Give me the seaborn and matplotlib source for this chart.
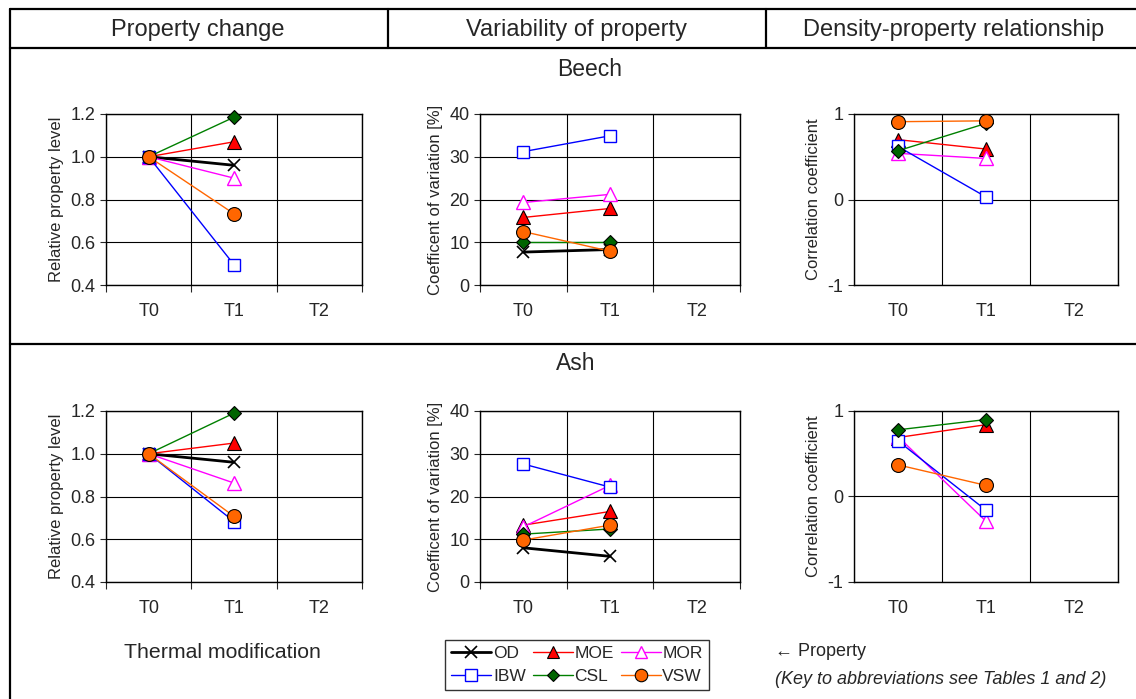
import matplotlib
matplotlib.use("Agg")
import matplotlib.pyplot as plt
import seaborn as sns
import pandas as pd
from matplotlib.lines import Line2D
from matplotlib.ticker import FormatStrFormatter

treatments = ["T0", "T1", "T2"]
measured = ["T0", "T1"]
properties = ["OD", "MOE", "MOR", "IBW", "CSL", "VSW"]

# Beech
beech_rel = {"OD": [1.0, 0.96], "MOE": [1.0, 1.07], "MOR": [1.0, 0.90],
             "IBW": [1.0, 0.495], "CSL": [1.0, 1.185], "VSW": [1.0, 0.733]}
beech_cov = {"OD": [7.7, 8.3], "MOE": [15.8, 17.9], "MOR": [19.3, 21.2],
             "IBW": [31.2, 34.9], "CSL": [10.1, 10.1], "VSW": [12.5, 7.9]}
beech_corr = {"MOE": [0.70, 0.59], "MOR": [0.54, 0.48], "IBW": [0.62, 0.03],
              "CSL": [0.57, 0.89], "VSW": [0.91, 0.92]}

# Ash
ash_rel = {"OD": [1.0, 0.96], "MOE": [1.0, 1.05], "MOR": [1.0, 0.863],
           "IBW": [1.0, 0.683], "CSL": [1.0, 1.19], "VSW": [1.0, 0.707]}
ash_cov = {"OD": [8.0, 6.0], "MOE": [13.3, 16.5], "MOR": [12.9, 22.6],
           "IBW": [27.6, 22.2], "CSL": [11.2, 12.4], "VSW": [9.8, 13.3]}
ash_corr = {"MOE": [0.69, 0.84], "MOR": [0.70, -0.29], "IBW": [0.65, -0.16],
            "CSL": [0.78, 0.90], "VSW": [0.37, 0.13]}

styles = {
    "OD": dict(color="black", lw=2.0, marker="x", ms=9, mfc="black", mec="black", mew=1.2),
    "MOE": dict(color="red", lw=1.0, marker="^", ms=10, mfc="red", mec="black", mew=0.8),
    "MOR": dict(color="magenta", lw=1.0, marker="^", ms=10, mfc="white", mec="magenta", mew=1.0),
    "IBW": dict(color="blue", lw=1.0, marker="s", ms=9, mfc="white", mec="blue", mew=1.0),
    "CSL": dict(color="#008000", lw=1.0, marker="D", ms=7, mfc="#006400", mec="black", mew=0.8),
    "VSW": dict(color="#FF6600", lw=1.0, marker="o", ms=10, mfc="#FF6600", mec="black", mew=0.8),
}

sns.set_style("white")
plt.rcParams["font.family"] = ["Liberation Sans", "DejaVu Sans"]
plt.rcParams["axes.unicode_minus"] = False

W, H = 1136, 699
fig = plt.figure(figsize=(W / 100, H / 100), dpi=100)


def px_axes(x0, y0, x1, y1):
    return fig.add_axes([x0 / W, 1 - y1 / H, (x1 - x0) / W, (y1 - y0) / H])


def draw_panel(ax, values, ylim, yticks, fmt, ylabel, corr=False):
    for p in properties:
        if p not in values:
            continue
        df = pd.DataFrame({"x": [treatments.index(t) for t in measured], "y": values[p]})
        st = styles[p]
        sns.lineplot(data=df, x="x", y="y", ax=ax, legend=False, color=st["color"],
                     linewidth=st["lw"], marker=st["marker"], markersize=st["ms"],
                     markerfacecolor=st["mfc"], markeredgecolor=st["mec"],
                     markeredgewidth=st["mew"], zorder=3, clip_on=False)
    ax.set_xlim(-0.5, 2.5)
    ax.set_ylim(*ylim)
    ax.set_xticks(range(len(treatments)))
    ax.set_xticklabels(treatments)
    ax.set_xticks([-0.5, 0.5, 1.5, 2.5], minor=True)
    ax.tick_params(axis="x", which="major", length=0, pad=13, labelsize=13)
    ax.tick_params(axis="x", which="minor", length=0 if corr else 5, width=0.8,
                   direction="out", bottom=True)
    ax.set_yticks(yticks)
    ax.yaxis.set_major_formatter(FormatStrFormatter(fmt))
    ax.tick_params(axis="y", length=4, width=0.8, direction="out", left=True, labelsize=13)
    ax.grid(axis="y", which="major", color="black", lw=0.8)
    ax.grid(axis="x", which="minor", color="black", lw=0.8)
    ax.set_axisbelow(True)
    for s in ax.spines.values():
        s.set_color("black")
        s.set_linewidth(1.0)
    ax.set_xlabel("")
    ax.set_ylabel(ylabel, fontsize=12, labelpad=5)


rows = [
    (114, 285, beech_rel, beech_cov, beech_corr),
    (411, 582, ash_rel, ash_cov, ash_corr),
]
for top, bot, rel, cov, corr in rows:
    ax1 = px_axes(106, top, 362, bot)
    draw_panel(ax1, rel, (0.4, 1.2), [0.4, 0.6, 0.8, 1.0, 1.2], "%.1f", "Relative property level")
    ax2 = px_axes(480, top, 740, bot)
    draw_panel(ax2, cov, (0, 40), [0, 10, 20, 30, 40], "%d", "Coefficent of variation [%]")
    ax3 = px_axes(854, top, 1118, bot)
    draw_panel(ax3, corr, (-1, 1), [-1, 0, 1], "%d", "Correlation coefficient", corr=True)


# table frame
def fline(xs, ys):
    fig.add_artist(Line2D([x / W for x in xs], [1 - y / H for y in ys],
                          color="black", lw=1.6, transform=fig.transFigure))


fline([10, W], [9, 9])
fline([10, W], [48, 48])
fline([10, W], [344, 344])
fline([10, 10], [9, H])
fline([388, 388], [9, 48])
fline([766, 766], [9, 48])

fig.text(198 / W, 1 - 30 / H, "Property change", ha="center", va="center", fontsize=17)
fig.text(576 / W, 1 - 30 / H, "Variability of property", ha="center", va="center", fontsize=17)
fig.text(954 / W, 1 - 30 / H, "Density-property relationship", ha="center", va="center", fontsize=17)
fig.text(590 / W, 1 - 70 / H, "Beech", ha="center", va="center", fontsize=16.5)
fig.text(576 / W, 1 - 364 / H, "Ash", ha="center", va="center", fontsize=16.5)
fig.text(222 / W, 1 - 653 / H, "Thermal modification", ha="center", va="center", fontsize=15.3)
fig.text(775 / W, 1 - 652 / H, "\u2190 Property", ha="left", va="center", fontsize=13)
fig.text(775 / W, 1 - 680 / H, "(Key to abbreviations see Tables 1 and 2)", ha="left",
         va="center", fontsize=13, style="italic")

order = ["OD", "IBW", "MOE", "CSL", "MOR", "VSW"]
handles = []
for p in order:
    st = styles[p]
    handles.append(Line2D([], [], color=st["color"], lw=st["lw"], marker=st["marker"],
                          ms=st["ms"] * 0.9, mfc=st["mfc"], mec=st["mec"], mew=st["mew"]))
leg = fig.legend(handles, order, ncol=3, loc="center", bbox_to_anchor=(577 / W, 1 - 665 / H),
                 frameon=True, fancybox=False, edgecolor="black", fontsize=12.5,
                 handlelength=2.3, handletextpad=0.1, columnspacing=0.4,
                 labelspacing=0.45, borderpad=0.35)
leg.get_frame().set_linewidth(1.0)

fig.savefig("out.png", dpi=100, facecolor="white")
